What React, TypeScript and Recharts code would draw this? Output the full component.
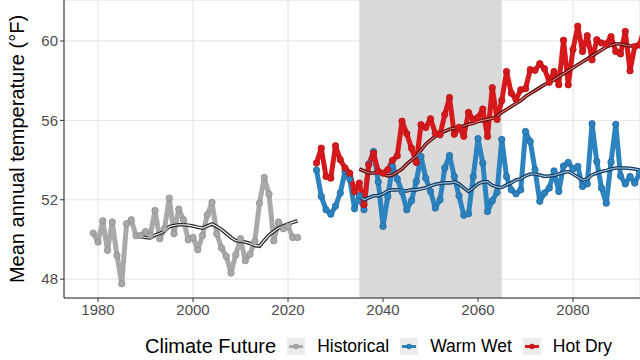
import {
  ComposedChart,
  Line,
  XAxis,
  YAxis,
  CartesianGrid,
  ReferenceArea,
  Legend,
} from 'recharts';

const FONT = '"Liberation Sans", Arial, sans-serif';

// observed record, 1979-2022
const histStart = 1979;
const histTemps = [
  50.32, 49.87, 50.94, 49.45, 50.88, 49.19, 47.77, 50.79, 50.99, 50.19,
  50.2, 50.4, 50.2, 51.46, 50.04, 50.54, 52.08, 50.29, 51.53, 50.99,
  49.98, 50.1, 49.48, 50.2, 51.24, 51.87, 50.29, 49.57, 49.15, 48.31,
  49.23, 50.04, 48.93, 49.26, 49.9, 51.83, 53.12, 52.28, 49.93, 50.88,
  50.54, 50.66, 50.1, 50.1,
];
// 10-yr running mean as drawn, 1988-2022
const histSmoothStart = 1988;
const histSmooth = [
  50.15, 50.15, 50.1, 50.08, 50.22, 50.3, 50.42, 50.65, 50.7, 50.74,
  50.74, 50.72, 50.68, 50.62, 50.57, 50.68, 50.78, 50.65, 50.5, 50.3,
  50.1, 49.95, 49.9, 49.87, 49.8, 49.7, 49.66, 49.95, 50.22, 50.4,
  50.57, 50.68, 50.78, 50.86, 50.94,
];

// projections, 2026-2095
const futStart = 2026;
const warmWet = [
  53.5, 52.17, 51.5, 51.27, 51.68, 52.34, 53.43, 53.05, 51.55, 52.2,
  51.5, 53.8, 54.43, 52.9, 50.66, 52.17, 53.68, 53.05, 52.4, 51.5,
  51.95, 52.92, 54.18, 53.09, 52.42, 51.58, 52.0, 53.6, 54.23, 53.17,
  52.2, 51.22, 51.3, 53.17, 55.08, 53.85, 51.41, 51.95, 52.38, 55.04,
  53.17, 52.5, 52.3, 52.5, 55.44, 54.94, 53.51, 51.92, 52.34, 52.59,
  53.45, 52.42, 53.7, 53.88, 53.55, 53.68, 52.67, 52.8, 55.83, 53.93,
  52.59, 51.83, 53.9, 55.8, 53.2, 52.8, 53.17, 52.84, 53.34, 53.1,
];
const hotDry = [
  53.85, 54.6, 53.17, 53.09, 54.72, 54.02, 53.6, 53.34, 52.42, 52.84,
  51.75, 53.76, 54.35, 53.43, 53.34, 53.51, 53.98, 54.22, 55.96, 55.33,
  54.6, 53.88, 55.78, 55.64, 56.08, 55.35, 55.27, 56.3, 57.15, 55.3,
  55.65, 55.2, 56.4, 56.05, 56.15, 56.57, 55.19, 57.65, 56.05, 57.0,
  58.46, 57.37, 57.07, 57.54, 57.6, 58.56, 58.52, 58.86, 58.6, 57.92,
  58.46, 57.8, 60.04, 57.79, 59.58, 60.75, 59.47, 60.27, 59.05, 60.06,
  59.9, 59.85, 60.22, 59.47, 59.35, 60.48, 58.5, 59.72, 59.81, 60.6,
];

// running means as drawn, 2035-2095
const smoothStart = 2035;
const warmWetSmooth = [
  52.2, 52.0, 52.1, 52.2, 52.2, 52.3, 52.45, 52.5, 52.5, 52.45,
  52.45, 52.5, 52.5, 52.55, 52.6, 52.7, 52.78, 52.82, 52.86, 52.85,
  52.9, 52.8, 52.6, 52.42, 52.6, 52.8, 52.9, 52.9, 52.72, 52.65,
  52.62, 52.75, 52.85, 53.0, 53.05, 53.2, 53.3, 53.3, 53.25, 53.18,
  53.2, 53.22, 53.3, 53.38, 53.42, 53.3, 53.15, 53.0, 53.05, 53.25,
  53.35, 53.42, 53.48, 53.55, 53.6, 53.6, 53.6, 53.58, 53.55, 53.5,
  53.5,
];
const hotDrySmooth = [
  53.55, 53.45, 53.35, 53.35, 53.4, 53.3, 53.2, 53.25, 53.4, 53.55,
  53.8, 54.0, 54.2, 54.5, 54.8, 55.0, 55.2, 55.35, 55.45, 55.55,
  55.6, 55.65, 55.72, 55.8, 55.85, 55.95, 56.0, 56.05, 56.1, 56.2,
  56.4, 56.55, 56.7, 56.85, 57.0, 57.2, 57.35, 57.5, 57.65, 57.8,
  57.9, 58.05, 58.2, 58.35, 58.5, 58.65, 58.8, 58.95, 59.1, 59.25,
  59.4, 59.55, 59.7, 59.8, 59.85, 59.85, 59.8, 59.75, 59.75, 59.72,
  59.75,
];

const xTicks = [1980, 2000, 2020, 2040, 2060, 2080];
const yTicks = [48, 52, 56, 60];
const periodStart = 2035;
const periodEnd = 2065;

const seriesNames = ['Historical', 'Warm Wet', 'Hot Dry'];
const seriesColors = ['#a9a9a9', '#2b83c0', '#d7191c'];
const dotEdges = ['#8e8e8e', '#226a9e', '#b01416'];

const toRows = (start: number, vals: number[]) =>
  vals.map((v, i) => ({ year: start + i, temp: v }));

function LegendBox() {
  return (
    <div
      style={{
        display: 'flex',
        alignItems: 'center',
        height: 32,
        paddingLeft: 145,
        paddingTop: 4,
        boxSizing: 'border-box',
        fontFamily: FONT,
        color: '#000',
        whiteSpace: 'nowrap',
      }}
    >
      <span style={{ fontSize: 20, marginRight: 11 }}>Climate Future</span>
      {seriesNames.map((name, i) => (
        <span key={name} style={{ display: 'flex', alignItems: 'center' }}>
          <svg width={18} height={17} style={{ background: '#ececec' }}>
            <line x1={2} y1={8.5} x2={16} y2={8.5} stroke={seriesColors[i]} strokeWidth={3} />
            <circle cx={9} cy={8.5} r={2.4} fill={seriesColors[i]} stroke={dotEdges[i]} strokeWidth={0.7} />
          </svg>
          <span style={{ fontSize: 17.5, marginLeft: 12, marginRight: 11 }}>{name}</span>
        </span>
      ))}
    </div>
  );
}

export default function App() {
  const hist = toRows(histStart, histTemps);
  const histRoll = toRows(histSmoothStart, histSmooth);
  const wet = toRows(futStart, warmWet);
  const dry = toRows(futStart, hotDry);
  const wetRoll = toRows(smoothStart, warmWetSmooth);
  const dryRoll = toRows(smoothStart, hotDrySmooth);

  const mainLines = [hist, wet, dry];
  const rollLines = [
    { data: histRoll, outer: '#262626', inner: '#ffffff' },
    { data: wetRoll, outer: '#163a5e', inner: '#9cc3e2' },
    { data: dryRoll, outer: '#5a0b0b', inner: '#e07a7a' },
  ];

  return (
    <div style={{ position: 'absolute', left: 0, top: 0, background: '#fff' }}>
      <ComposedChart
        width={640}
        height={360}
        margin={{ top: 0, right: 0, bottom: 0, left: 0 }}
        style={{ fontFamily: FONT }}
      >
        <CartesianGrid stroke="#e4e4e4" strokeWidth={1} />
        <ReferenceArea
          x1={periodStart}
          x2={periodEnd}
          fill="#d3d3d3"
          fillOpacity={0.85}
          stroke="none"
        />
        <XAxis
          type="number"
          dataKey="year"
          domain={[1972.84, 2094.1]}
          allowDataOverflow
          ticks={xTicks}
          height={30}
          tickSize={4}
          tick={{ fill: '#4d4d4d', fontSize: 15 }}
          tickLine={{ stroke: '#333' }}
          axisLine={{ stroke: '#222' }}
        />
        <YAxis
          type="number"
          domain={[47.05, 62.066]}
          allowDataOverflow
          ticks={yTicks}
          width={64}
          tickSize={4}
          tick={{ fill: '#4d4d4d', fontSize: 15 }}
          tickLine={{ stroke: '#333' }}
          axisLine={{ stroke: '#222' }}
          label={() => (
            <text
              x={17}
              y={149}
              transform="rotate(-90 17 149)"
              textAnchor="middle"
              dominantBaseline="central"
              fontSize={20}
              fill="#000"
              fontFamily={FONT}
            >
              Mean annual temperature (°F)
            </text>
          )}
        />
        {mainLines.map((rows, i) => (
          <Line
            key={seriesNames[i]}
            data={rows}
            dataKey="temp"
            name={seriesNames[i]}
            stroke={seriesColors[i]}
            strokeWidth={5}
            strokeLinejoin="round"
            dot={{ r: 3.2, fill: seriesColors[i], stroke: dotEdges[i], strokeWidth: 0.8 }}
            isAnimationActive={false}
          />
        ))}
        {rollLines.map((s, i) => (
          <Line
            key={'outer' + i}
            data={s.data}
            dataKey="temp"
            stroke={s.outer}
            strokeWidth={3.6}
            dot={false}
            legendType="none"
            isAnimationActive={false}
          />
        ))}
        {rollLines.map((s, i) => (
          <Line
            key={'inner' + i}
            data={s.data}
            dataKey="temp"
            stroke={s.inner}
            strokeWidth={1.1}
            dot={false}
            legendType="none"
            isAnimationActive={false}
          />
        ))}
        <Legend
          verticalAlign="bottom"
          height={32}
          wrapperStyle={{ left: 0, bottom: 0, width: 640 }}
          content={() => <LegendBox />}
        />
      </ComposedChart>
    </div>
  );
}
